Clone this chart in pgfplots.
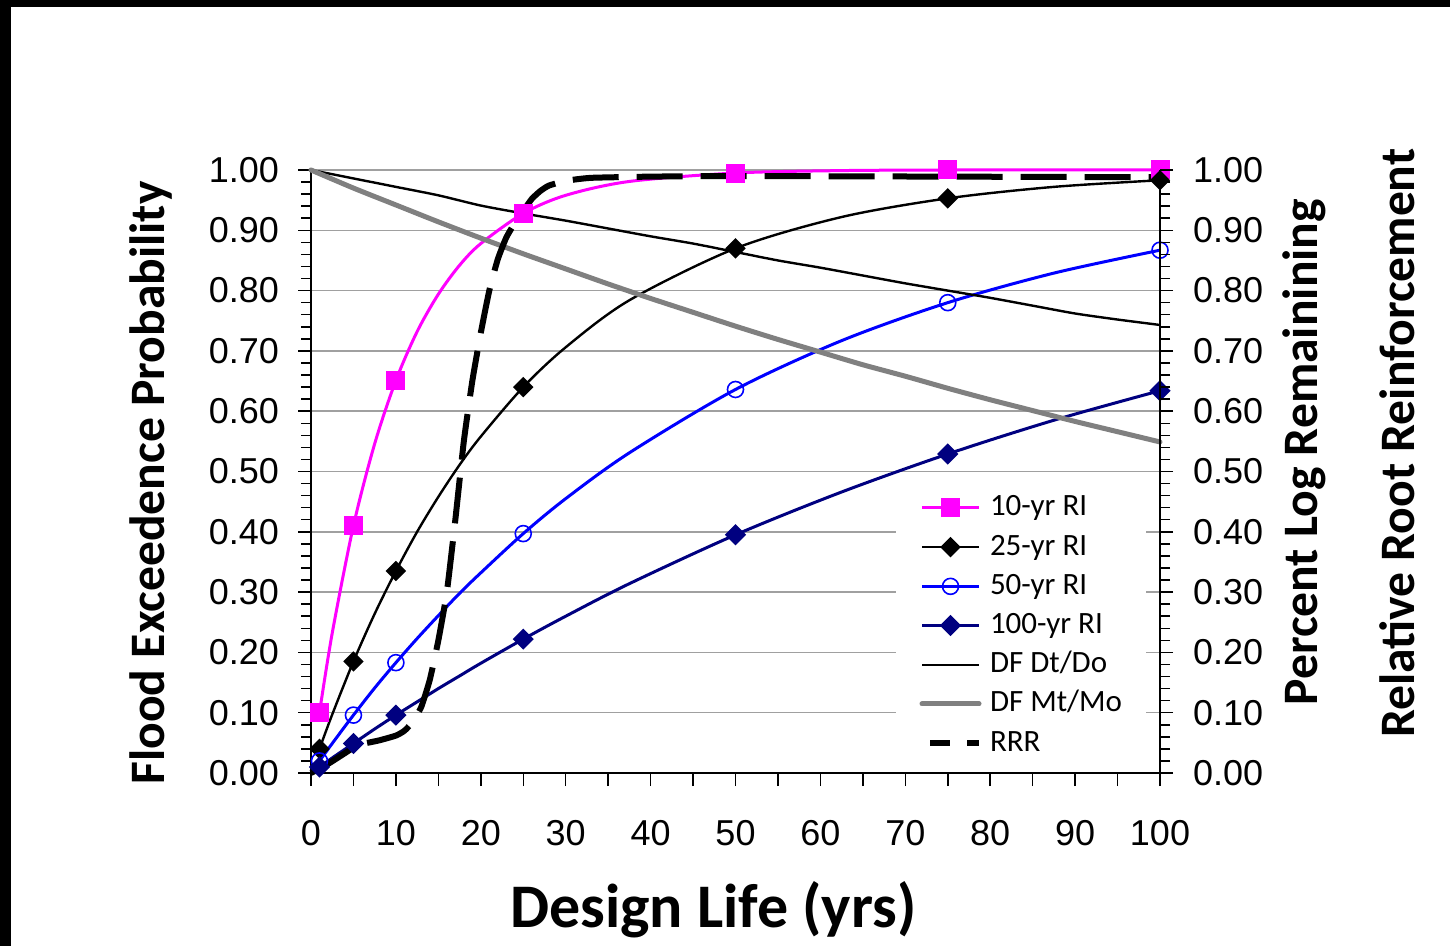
\documentclass[border=0pt]{standalone}
\usepackage{pgfplots}
\pgfplotsset{compat=1.18}
\usepackage{fontspec}
\setmainfont{Liberation Sans}
\newfontfamily\carlito{Carlito}

\definecolor{rimag}{RGB}{255,0,255}
\definecolor{rinavy}{RGB}{0,0,128}
\definecolor{riblue}{RGB}{0,0,255}
\definecolor{dfgray}{RGB}{128,128,128}
\definecolor{gridgray}{RGB}{160,160,160}

\pgfplotstableread{
x     r10   r25   r50   r100
1     0.100 0.040 0.020 0.010
2.5   0.232 0.097 0.049 0.025
5     0.410 0.185 0.096 0.049
7.5   0.546 0.264 0.141 0.073
10    0.651 0.335 0.183 0.096
12.5  0.732 0.400 0.223 0.118
15    0.794 0.458 0.261 0.140
17.5  0.842 0.511 0.298 0.161
20    0.878 0.558 0.332 0.182
25    0.928 0.640 0.397 0.222
30    0.958 0.706 0.455 0.260
37.5  0.981 0.784 0.531 0.314
50    0.995 0.870 0.636 0.395
62.5  0.999 0.922 0.717 0.466
75    1.000 0.953 0.780 0.529
87.5  1.000 0.972 0.829 0.585
100   1.000 0.983 0.867 0.634
}\ritable

\pgfplotstableread{
x    dt     mt
0    1.000  1.000
5    0.986  0.970
10   0.972  0.942
15   0.958  0.914
20   0.941  0.887
25   0.928  0.861
30   0.916  0.836
35   0.903  0.811
40   0.890  0.787
45   0.878  0.764
50   0.864  0.741
55   0.850  0.719
60   0.838  0.698
65   0.825  0.677
70   0.812  0.658
75   0.800  0.638
80   0.788  0.619
85   0.775  0.601
90   0.762  0.583
95   0.752  0.566
100  0.743  0.549
}\dftable

\pgfplotstableread{
x    rrr
0    0.000
2    0.015
4    0.033
5    0.042
6    0.048
8    0.054
10   0.062
11   0.070
12   0.085
13   0.110
14   0.155
15   0.220
16   0.300
17   0.420
18   0.550
19   0.650
20   0.730
21   0.800
22   0.852
23   0.888
24   0.912
25   0.932
26   0.952
27   0.965
28   0.974
30   0.982
33   0.987
40   0.989
50   0.990
75   0.989
100  0.988
}\rrrtable

\pgfplotsset{
  commonax/.style={
    scale only axis, width=424.5bp, height=301.5bp,
    at={(155.5bp,86.5bp)}, anchor=south west,
    xmin=0, xmax=100, ymin=0, ymax=1,
    ytick={0,0.1,0.2,0.3,0.4,0.5,0.6,0.7,0.8,0.9,1.0},
    minor y tick num=4,
    tick align=outside,
    major tick length=6.5bp, minor tick length=5bp,
    axis line style={black, line width=0.9bp},
    tick style={black, line width=0.75bp},
    yticklabel style={/pgf/number format/fixed, /pgf/number format/fixed zerofill,
      /pgf/number format/precision=2, /pgf/number format/assume math mode=true},
    ticklabel style={font=\fontsize{18bp}{21bp}\selectfont},
    clip=false,
  },
  riimg/.style={legend image code/.code={%
    \draw[##1, mark indices={2}] plot coordinates {(0bp,0bp) (14.25bp,0bp) (28.5bp,0bp)};}},
  lineimg/.style={legend image code/.code={%
    \draw[##1] (0bp,0bp) -- (28.5bp,0bp);}},
  rrrimg/.style={legend image code/.code={%
    \draw[##1, dash pattern=on 10bp off 8.5bp] (4bp,0bp) -- (28.5bp,0bp);}},
}

\begin{document}
\begin{tikzpicture}
\useasboundingbox (0,0) rectangle (725bp,473bp);
\fill[white] (0,0) rectangle (725bp,473bp);
\fill[black] (0,469.5bp) rectangle (725bp,473bp);
\fill[black] (0,0) rectangle (5.5bp,473bp);

\begin{axis}[commonax,
  axis x line*=bottom, axis y line*=left,
  xtick={0,5,...,100},
  xticklabels={0,,10,,20,,30,,40,,50,,60,,70,,80,,90,,100},
  xticklabel style={yshift=-13.5bp},
  yticklabel style={xshift=-6bp},
  ymajorgrids, major grid style={gridgray, line width=0.75bp},
  xlabel={Design Life (yrs)},
  xlabel style={at={(axis description cs:0.474,0)}, anchor=base, yshift=-77bp,
    font=\carlito\bfseries\fontsize{31bp}{36bp}\selectfont},
  ylabel={Flood Exceedence Probability},
  ylabel style={at={(axis description cs:-0.172,0.481)}, anchor=base,
    font=\carlito\bfseries\fontsize{24.8bp}{28bp}\selectfont},
  legend style={at={(rel axis cs:0.688,0.480)}, anchor=north west,
    draw=none, fill=white, inner xsep=12bp, inner ysep=4bp,
    font=\carlito\fontsize{15.5bp}{18bp}\selectfont,
    cells={anchor=west}, column sep=4bp, row sep=3.6bp,
    nodes={inner sep=0pt, text height=12bp, text depth=4bp}},
]
\addplot[rimag, line width=1.5bp, smooth, tension=0.5, mark=square*,
  mark size=4bp, mark indices={1,3,5,10,13,15,17}, mark options={solid}, riimg]
  table[x=x, y=r10] {\ritable};
\addlegendentry{10-yr RI}
\addplot[black, line width=1.2bp, smooth, tension=0.5, mark=square*,
  mark size=3bp, mark indices={1,3,5,10,13,15,17}, mark options={solid, rotate=45}, riimg]
  table[x=x, y=r25] {\ritable};
\addlegendentry{25-yr RI}
\addplot[riblue, line width=1.5bp, smooth, tension=0.5, mark=o,
  mark size=4bp, mark indices={1,3,5,10,13,15,17}, mark options={solid, fill=white, line width=0.8bp}, riimg]
  table[x=x, y=r50] {\ritable};
\addlegendentry{50-yr RI}
\addplot[rinavy, line width=1.5bp, smooth, tension=0.5, mark=square*,
  mark size=3bp, mark indices={1,3,5,10,13,15,17}, mark options={solid, rotate=45}, riimg]
  table[x=x, y=r100] {\ritable};
\addlegendentry{100-yr RI}
\addplot[black, line width=1.2bp, smooth, tension=0.4, mark=none, lineimg]
  table[x=x, y=dt] {\dftable};
\addlegendentry{DF Dt/Do}
\addplot[dfgray, line width=2.5bp, smooth, tension=0.4, mark=none, line cap=round, lineimg]
  table[x=x, y=mt] {\dftable};
\addlegendentry{DF Mt/Mo}
\addplot[black, line width=3bp, smooth, tension=0.3, mark=none,
  dash pattern=on 23bp off 9bp, rrrimg]
  table[x=x, y=rrr] {\rrrtable};
\addlegendentry{RRR}
\end{axis}

\begin{axis}[commonax,
  axis x line=none, axis y line*=right,
  yticklabel style={xshift=6.5bp},
  ylabel={Percent Log Remainining},
  ylabel style={at={(axis description cs:1.186,0.532)}, anchor=base, rotate=0,
    font=\carlito\bfseries\fontsize{24.8bp}{28bp}\selectfont},
]
\addplot[draw=none, forget plot] coordinates {(0,0) (100,1)};
\node[rotate=90, anchor=base, font=\carlito\bfseries\fontsize{24.8bp}{28bp}\selectfont]
  at (rel axis cs:1.300,0.547) {Relative Root Reinforcement};
\end{axis}
\end{tikzpicture}
\end{document}
